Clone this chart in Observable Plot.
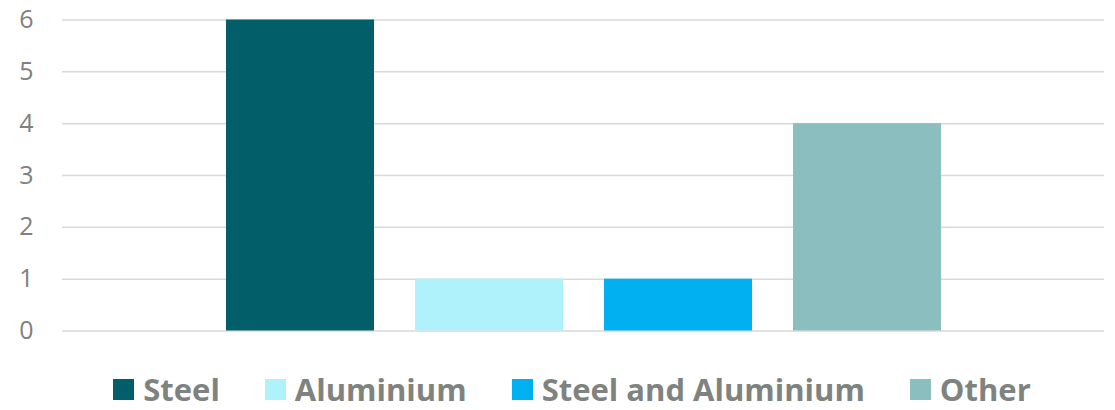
<!DOCTYPE html>
<html><head>
<meta charset="utf-8">
<script src="https://cdn.jsdelivr.net/npm/d3@7"></script>
<script src="https://cdn.jsdelivr.net/npm/@observablehq/plot@0.6"></script>
<style>
body{margin:0;background:#fff;font-family:"Open Sans",sans-serif}
#legend{display:flex;justify-content:center;align-items:center;gap:45px;height:56px;padding-left:29px;box-sizing:border-box;padding-top:22px}
.item{display:flex;align-items:center}
.sw{width:21px;height:21px;margin-right:9px}
.lab{font-size:31px;font-weight:700;color:#7f8380;line-height:1}
</style></head><body>
<div id="chart"></div><div id="legend"></div>
<script>
const categories = ["Steel","Aluminium","Steel and Aluminium","Other"];
const values = [6,1,1,4];
const colors = ["#025E69","#AFF2FC","#00B0F0","#8BBEBF"];
const yTicks = [0,1,2,3,4,5,6];
const data = categories.map((c,i)=>({category:c, value:values[i]}));
const chart = Plot.plot({
  width:1115, height:350, marginLeft:62, marginRight:11, marginTop:19.5, marginBottom:19.5,
  x:{domain:categories, paddingInner:0.217, paddingOuter:0.865, axis:null},
  y:{domain:[0,6], axis:null},
  color:{domain:categories, range:colors},
  style:{fontFamily:"Open Sans", background:"#fff"},
  marks:[
    Plot.ruleY(yTicks,{stroke:"#d9d9d9", strokeWidth:1.5}),
    Plot.axisY(yTicks,{tickSize:0, tickPadding:29, fontSize:25, fill:"#808080", label:null, tickFormat:d3.format("d")}),
    Plot.barY(data,{x:"category",y:"value",fill:"category"})
  ]
});
document.getElementById("chart").appendChild(chart);
const leg = document.getElementById("legend");
categories.forEach((c,i)=>{
  const it=document.createElement("div");it.className="item";
  const sw=document.createElement("div");sw.className="sw";sw.style.background=colors[i];
  const t=document.createElement("span");t.className="lab";t.textContent=c;
  it.appendChild(sw);it.appendChild(t);leg.appendChild(it);
});
</script>
</body></html>
